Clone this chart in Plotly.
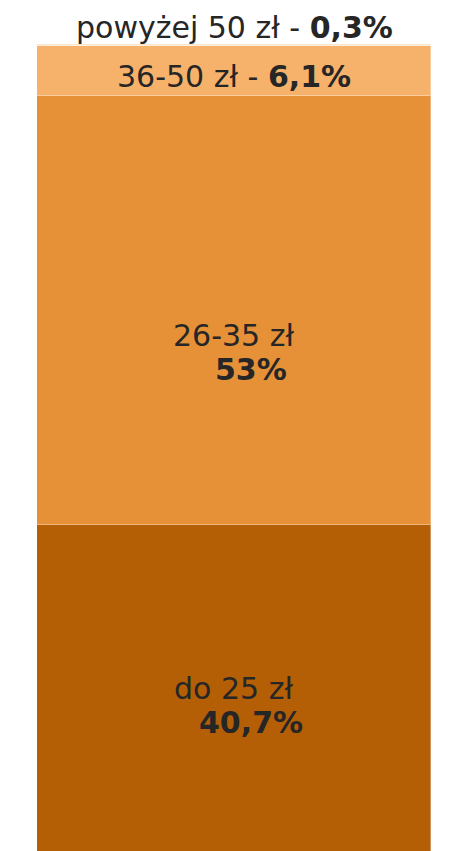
import plotly.graph_objects as go

categories = ["do 25 zł", "26-35 zł", "36-50 zł", "powyżej 50 zł"]
values = [40.7, 53.0, 6.1, 0.3]
value_labels = ["40,7%", "53%", "6,1%", "0,3%"]
colors = ["#B45F06", "#E69138", "#F6B26B", "#FCE5CD"]

fig = go.Figure()
for cat, val, col in zip(categories, values, colors):
    fig.add_trace(go.Bar(
        x=[0], y=[val], name=cat, width=1,
        marker=dict(color=col, line=dict(color="rgba(255,255,255,0.35)", width=1)),
        hoverinfo="skip",
    ))

font_main = "DejaVu Sans"
txt = "#262626"
fs = 30
cum = [sum(values[:i]) for i in range(len(values))]
mids = [c + v / 2 for c, v in zip(cum, values)]

# Two-line labels for large segments
for i, yshift in ((0, -15), (1, -42)):
    fig.add_annotation(x=0, y=mids[i], xref="x", yref="y", text=categories[i],
                       showarrow=False, yshift=yshift + 17, xshift=-1,
                       font=dict(family=font_main, size=fs, color=txt))
    fig.add_annotation(x=0, y=mids[i], xref="x", yref="y", text="<b>" + value_labels[i] + "</b>",
                       showarrow=False, yshift=yshift - 17, xshift=17,
                       font=dict(family=font_main, size=fs, color=txt))

# Single-line labels for thin segments
fig.add_annotation(x=0, y=mids[2], xref="x", yref="y",
                   text=categories[2] + " - <b>" + value_labels[2] + "</b>",
                   showarrow=False, yshift=-5,
                   font=dict(family=font_main, size=fs, color=txt))
fig.add_annotation(x=0, y=cum[3] + values[3], xref="x", yref="y",
                   text=categories[3] + " - <b>" + value_labels[3] + "</b>",
                   showarrow=False, yanchor="bottom", yshift=-3,
                   font=dict(family=font_main, size=fs, color=txt))

fig.update_layout(
    barmode="stack", width=451, height=851,
    margin=dict(l=29, r=28, t=36, b=4),
    paper_bgcolor="white", plot_bgcolor="white",
    showlegend=False, bargap=0,
    xaxis=dict(range=[-0.5, 0.5], visible=False, fixedrange=True),
    yaxis=dict(range=[0, 100.1], visible=False, fixedrange=True),
)
fig.write_html("out.html")
